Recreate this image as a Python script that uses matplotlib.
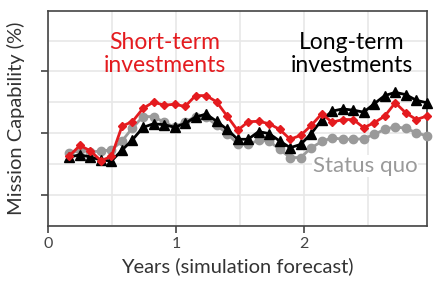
import matplotlib
matplotlib.use("Agg")
import matplotlib.pyplot as plt
import numpy as np

# one point every 30 days, from day 60 to day 1080
days = np.arange(60, 1081, 30)
years = days / 365.0

short_term = [40.8, 45.0, 42.8, 38.8, 40.6, 52.8, 54.7, 60.0, 62.6, 61.3,
              61.7, 60.8, 65.2, 65.2, 62.7, 56.9, 51.1, 54.6, 54.8, 53.8,
              51.5, 47.5, 49.1, 53.1, 57.8, 54.4, 55.5, 55.5, 52.2, 54.2,
              56.9, 62.3, 58.2, 55.5, 56.9]
long_term = [40.3, 41.2, 40.3, 39.1, 38.7, 43.1, 47.3, 52.3, 53.8, 53.4,
             52.4, 53.9, 56.5, 57.7, 54.8, 51.5, 47.5, 47.5, 50.6, 49.8,
             46.8, 44.1, 45.4, 49.8, 55.3, 58.9, 59.8, 59.3, 58.5, 61.9,
             65.2, 66.5, 65.6, 63.3, 62.3]
status_quo = [41.8, 43.0, 42.4, 42.7, 43.2, 46.8, 52.1, 56.7, 56.7, 54.4,
              52.5, 54.5, 56.7, 56.5, 53.2, 49.8, 45.7, 45.4, 47.1, 46.8,
              43.4, 40.1, 40.1, 44.0, 46.6, 48.1, 47.5, 47.5, 47.7, 49.5,
              51.5, 52.6, 51.9, 50.2, 48.8]

red = "#e41b1f"
grey = "#9a9a9a"

fig = plt.figure(figsize=(4.4, 2.9), dpi=100)
ax = fig.add_axes([0.11, 0.222, 0.86, 0.741])

ax.plot(years, status_quo, "-o", color=grey, lw=2, ms=6, clip_on=False, zorder=3)
ax.plot(years, long_term, "-^", color="black", lw=2, ms=7, clip_on=False, zorder=4)
ax.plot(years, short_term, "-D", color=red, lw=2, ms=4.5, clip_on=False, zorder=5)

ax.set_xlim(0, 1080 / 365.0)
ax.set_ylim(12.9, 99.6)
ax.set_xticks([0, 1, 2])
ax.set_xticks([0.5, 1.5, 2.5], minor=True)
ax.set_yticks([25, 50, 75])
ax.set_yticks([12.5, 37.5, 62.5, 87.5], minor=True)
ax.set_yticklabels([])
ax.grid(True, which="both", color="#e8e8e8", lw=1.2, zorder=0)
ax.tick_params(which="minor", length=0)
ax.tick_params(which="major", length=5, width=1.2, color="#444444",
               labelsize=11.5, labelcolor="#444444", pad=3)
for lab in ax.get_xticklabels():
    lab.set_family("Lato")
for s in ax.spines.values():
    s.set_color("#444444")
    s.set_linewidth(1.2)

ax.set_xlabel("Years (simulation forecast)", family="Lato",
              fontsize=14.5, color="#333333", labelpad=5)
ax.set_ylabel("Mission Capability (%)", family="Lato",
              fontsize=14.5, color="#333333", labelpad=9)

ax.text(0.91, 82, "Short-term\ninvestments", color=red, family="Lato",
        fontsize=16.5, ha="center", va="center", linespacing=1.15)
ax.text(2.375, 82, "Long-term\ninvestments", color="black", family="Lato",
        fontsize=16.5, ha="center", va="center", linespacing=1.15)
ax.text(2.477, 36.6, "Status quo", color=grey, family="Lato",
        fontsize=16, ha="center", va="center",
        bbox=dict(facecolor="white", edgecolor="none", pad=0.5))

fig.savefig("out.png", dpi=100)
